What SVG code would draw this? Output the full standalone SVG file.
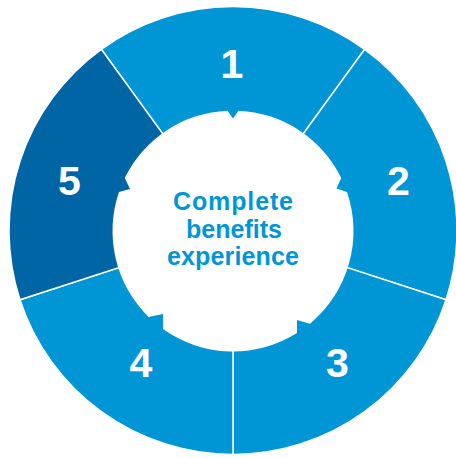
<svg xmlns="http://www.w3.org/2000/svg" width="456" height="458" viewBox="0 0 456 458">
  <style>
    .seg { fill: #0096d6; stroke: #ffffff; stroke-width: 1.5; stroke-linejoin: miter; }
    .seg.dark { fill: #0065a4; }
    .num { font-family: "Liberation Sans", Arial, sans-serif; font-weight: bold; font-size: 41px; fill: #ffffff; text-anchor: middle; }
    .center-text { font-family: "Liberation Sans", Arial, sans-serif; font-weight: bold; font-size: 25px; fill: #0096d6; text-anchor: middle; }
  </style>
  <rect width="456" height="458" fill="#ffffff"/>
  <g id="segment-1">
    <path class="seg" d="M 101.34 49.28 A 224 224 0 0 1 364.66 49.28 L 291.78 149.60 A 100 100 0 0 0 174.22 149.60 Z"/>
    <text class="num" x="232" y="78">1</text>
  </g>
  <g id="segment-2">
    <path class="seg" d="M 364.66 49.28 A 224 224 0 0 1 446.04 299.72 L 328.11 261.40 A 100 100 0 0 0 291.78 149.60 Z"/>
    <text class="num" x="398.5" y="195">2</text>
  </g>
  <g id="segment-3">
    <path class="seg" d="M 446.04 299.72 A 224 224 0 0 1 233 454.5 L 233 330.5 A 100 100 0 0 0 328.11 261.40 Z"/>
    <text class="num" x="337.5" y="377">3</text>
  </g>
  <g id="segment-4">
    <path class="seg" d="M 233 454.5 A 224 224 0 0 1 19.96 299.72 L 137.89 261.40 A 100 100 0 0 0 233 330.5 Z"/>
    <text class="num" x="141" y="377">4</text>
  </g>
  <g id="segment-5">
    <path class="seg dark" d="M 19.96 299.72 A 224 224 0 0 1 101.34 49.28 L 174.22 149.60 A 100 100 0 0 0 137.89 261.40 Z"/>
    <text class="num" x="69.5" y="195">5</text>
  </g>
  <g id="connectors"></g>
  <g id="center">
    <path fill="#ffffff" d="M 227.5 110.63 L 233 118.5 L 238.5 110.63 A 120.5 120.5 0 0 1 341.22 178 L 336.5 188.5 L 347.01 192 A 120.5 120.5 0 0 1 310 323.69 L 297 320 L 297 333.1 A 120.5 120.5 0 0 1 163 329.08 L 163 314 L 148.5 316.9 A 120.5 120.5 0 0 1 118.99 192 L 130 189 L 124.78 178 A 120.5 120.5 0 0 1 227.5 110.63 Z"/>
    <text class="center-text" x="233" y="210" textLength="120" lengthAdjust="spacing">Complete</text>
    <text class="center-text" x="234" y="237.5" textLength="96" lengthAdjust="spacing">benefits</text>
    <text class="center-text" x="233" y="265" textLength="132" lengthAdjust="spacing">experience</text>
  </g>
</svg>
